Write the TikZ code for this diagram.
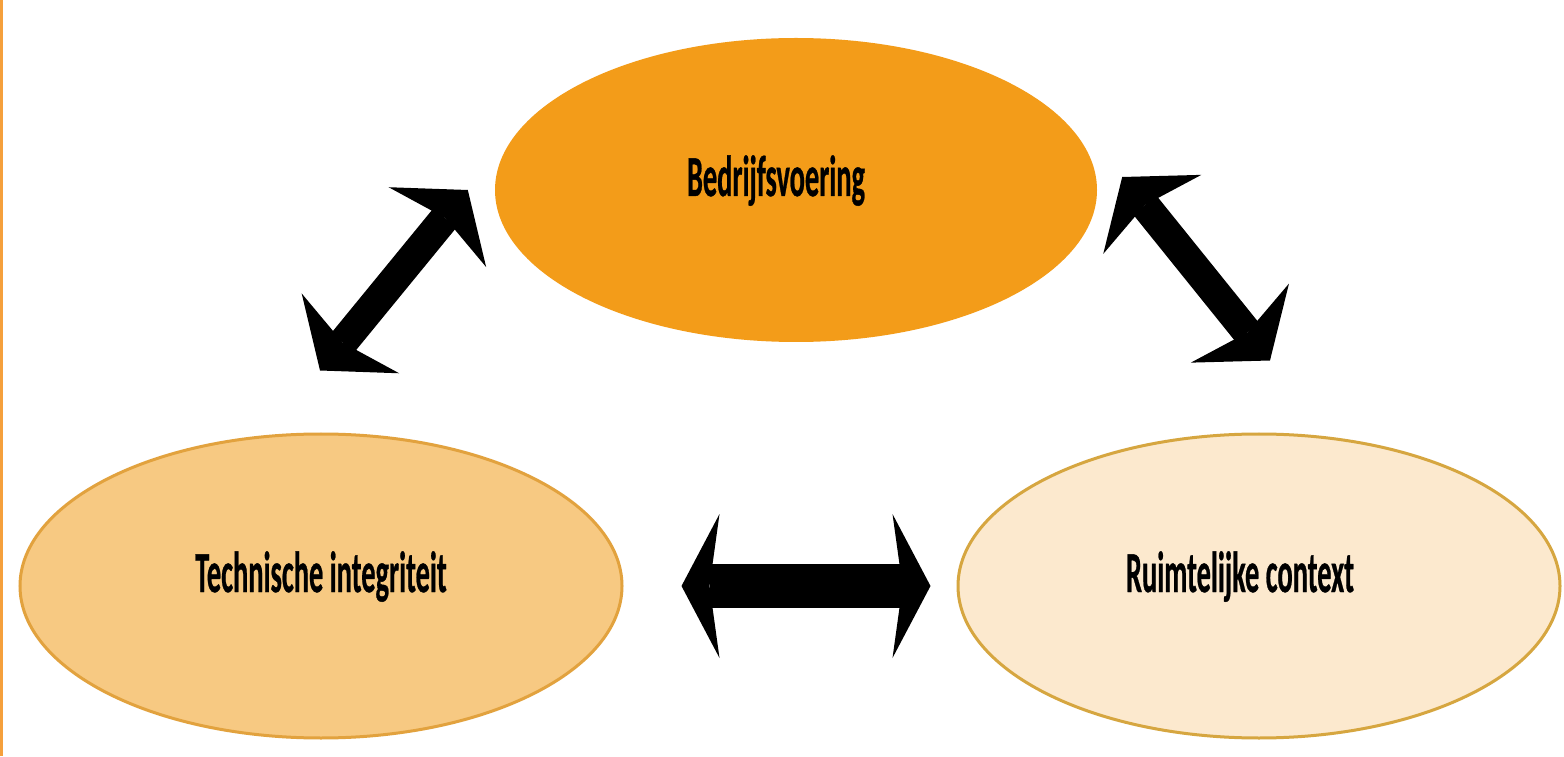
\documentclass[tikz,border=0pt]{standalone}
\usepackage{fontspec}
\usepackage{graphicx}
\setmainfont{Carlito}[BoldFeatures={FakeBold=0.8}]
\usetikzlibrary{shapes.geometric,arrows.meta}
\definecolor{bedrorange}{RGB}{243,156,25}
\definecolor{techfill}{RGB}{247,201,130}
\definecolor{techline}{RGB}{226,162,62}
\definecolor{ruimfill}{RGB}{252,233,206}
\definecolor{ruimline}{RGB}{214,166,64}
\definecolor{edgeorange}{RGB}{245,160,60}
\newcommand{\squeeze}[1]{\scalebox{0.49}[1]{\bfseries #1}}

\begin{document}
\begin{tikzpicture}
[x=1pt,y=1pt,%
  every node/.style={shape=ellipse,minimum width=602pt,minimum height=304pt,inner sep=0pt,
    text height=20pt,text depth=8pt,font=\fontsize{58}{66}\selectfont},%
  duo/.style n args={4}{line width=#1,
    {Stealth[length=#2,width=#3,inset=#4,line width=0pt]}-{Stealth[length=#2,width=#3,inset=#4,line width=0pt]}}]
\useasboundingbox (0,0) rectangle (1564,756);
\fill[white] (0,0) rectangle (1564,756);
\draw[edgeorange,line width=3pt] (1.5,0) -- (1.5,756);
% ellipses
\node[fill=bedrorange] (bedr) at (796,566) {\squeeze{Bedrijfsvoering}\rule{40pt}{0pt}};
\node[fill=techfill,draw=techline,line width=3pt] (tech) at (321,170) {\squeeze{Technische integriteit}};
\node[fill=ruimfill,draw=ruimline,line width=3pt] (ruim) at (1259,170) {\squeeze{Ruimtelijke context}\rule{38pt}{0pt}};
% arrows
\draw[duo={30pt}{48pt}{126pt}{12pt}] ([shift={(-1pt,62pt)}]tech.north) -- ([xshift=-27pt]bedr.west);
\draw[duo={30pt}{48pt}{126pt}{12pt}] ([shift={(25pt,13pt)}]bedr.east) -- ([shift={(11pt,72pt)}]ruim.north);
\draw[duo={44pt}{38pt}{144pt}{10pt}] ([xshift=58pt]tech.east) -- ([xshift=-26pt]ruim.west);
\end{tikzpicture}
\end{document}
